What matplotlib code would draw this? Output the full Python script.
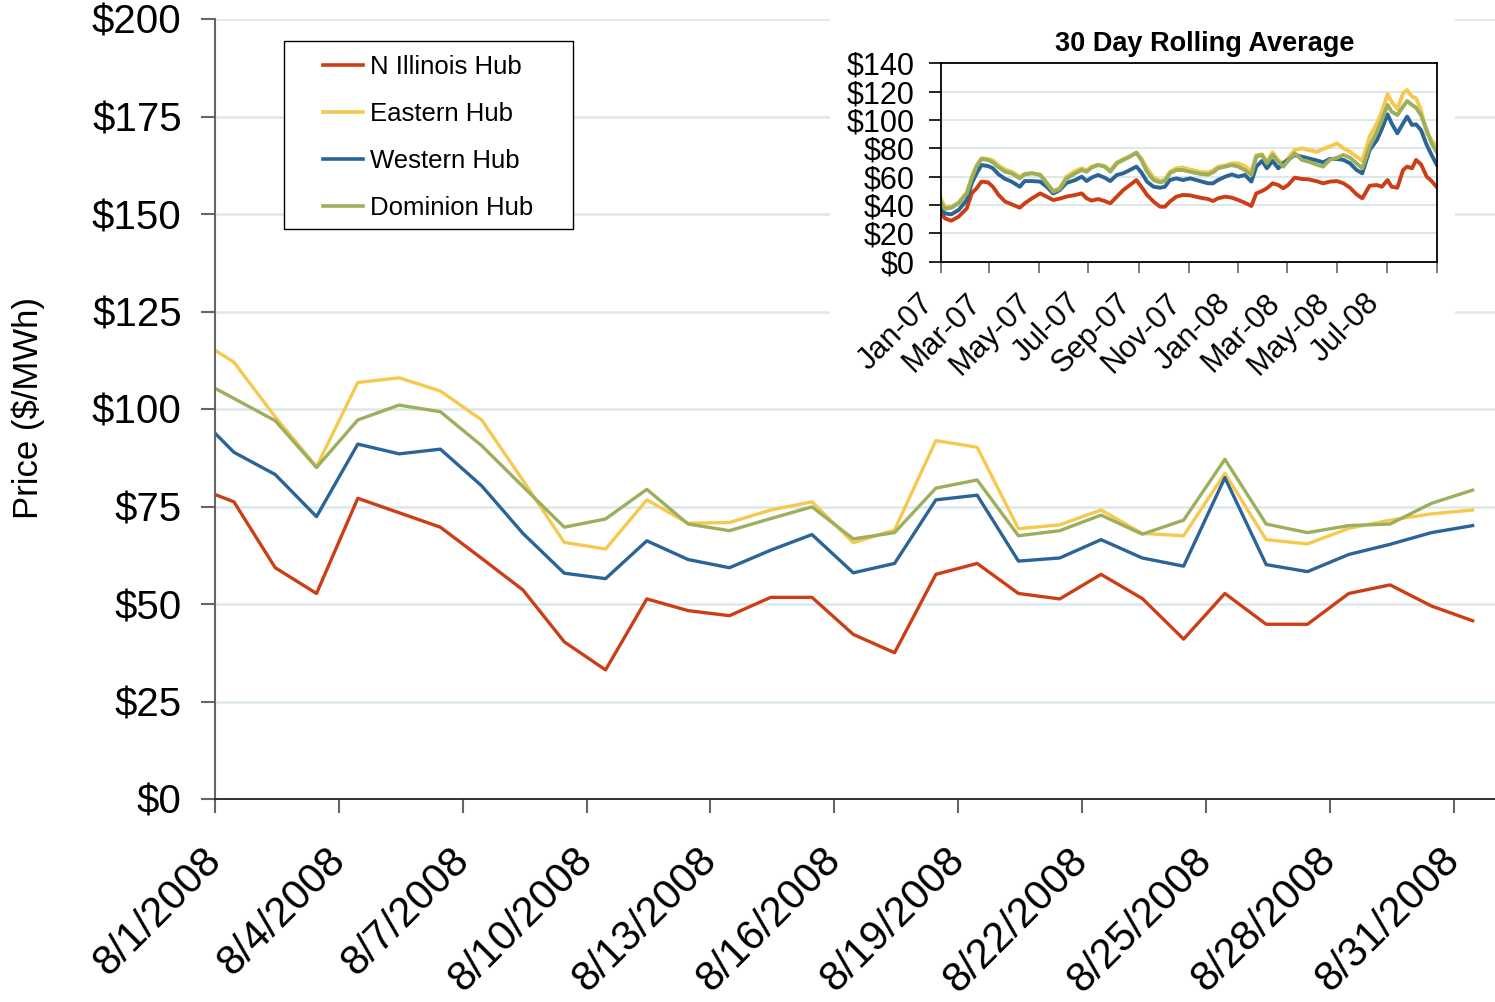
import matplotlib
matplotlib.use('Agg')
import matplotlib.pyplot as plt
import pandas as pd
from matplotlib.patches import Rectangle
from matplotlib.transforms import ScaledTranslation

plt.rcParams['font.family'] = ['Liberation Sans', 'DejaVu Sans']

# Daily prices, August 2008 ($/MWh). First value is 7/31, mostly cut off by the axis
days = pd.date_range('2008-07-31 11:00', periods=32, freq='D')
n_illinois = [80.3, 76.2, 59.3, 52.7, 77.1, 73.4, 69.7, 61.7, 53.6, 40.3, 33.1, 51.3,
              48.3, 47.0, 51.7, 51.7, 42.2, 37.5, 57.6, 60.4, 52.7, 51.3, 57.6, 51.4,
              41.0, 52.7, 44.8, 44.8, 52.7, 54.9, 49.5, 45.7]
eastern = [118.7, 112.0, 98.0, 85.2, 106.8, 108.0, 104.6, 97.2, 81.7, 65.8, 64.1, 76.7,
           70.7, 70.9, 74.1, 76.2, 65.7, 69.0, 91.9, 90.2, 69.3, 70.3, 74.1, 68.1,
           67.5, 83.5, 66.5, 65.4, 69.4, 71.5, 73.1, 74.1]
western = [99.6, 88.9, 83.2, 72.4, 91.0, 88.5, 89.7, 80.3, 68.1, 57.9, 56.5, 66.2,
           61.4, 59.3, 63.8, 67.8, 58.0, 60.4, 76.7, 77.9, 61.0, 61.8, 66.5, 61.8,
           59.7, 82.4, 60.1, 58.3, 62.7, 65.3, 68.3, 70.1]
dominion = [108.4, 102.7, 97.0, 85.0, 97.2, 101.0, 99.3, 90.6, 80.1, 69.7, 71.8, 79.4,
            70.5, 68.8, 71.9, 74.9, 66.7, 68.3, 79.7, 81.8, 67.5, 68.8, 72.8, 67.9,
            71.5, 87.1, 70.5, 68.3, 70.1, 70.5, 75.8, 79.2]

# 30 day rolling average, sampled off the inset (days since 1/1/2007)
avg_days = [0, 5, 13, 22, 32, 38, 44, 50, 58, 64, 71, 79, 87, 97, 103, 112, 122, 130,
            138, 146, 154, 165, 173, 179, 185, 193, 201, 208, 216, 224, 232, 240, 246,
            253, 261, 269, 275, 281, 289, 297, 306, 318, 328, 334, 340, 349, 357, 365,
            373, 381, 387, 394, 400, 407, 414, 420, 426, 434, 443, 451, 461, 469, 477,
            486, 494, 502, 510, 517, 526, 535, 541, 548, 553, 560, 567, 572, 578, 583,
            589, 596, 602, 608]
avg_n_illinois = [35.3, 30.6, 28.9, 31.8, 37.6, 48.2, 51.8, 56.5, 56.0, 52.9, 47.1, 42.4,
                  40.5, 38.1, 41.2, 44.7, 48.2, 45.9, 43.5, 44.5, 45.9, 47.1, 48.2, 44.7,
                  43.1, 44.2, 42.8, 41.2, 45.9, 50.6, 54.1, 57.6, 52.9, 47.1, 42.4, 38.8,
                  38.8, 42.4, 45.9, 47.1, 46.8, 45.2, 44.2, 42.8, 44.7, 45.9, 45.2, 43.5,
                  41.6, 39.3, 48.2, 49.9, 51.8, 55.3, 54.1, 51.8, 54.1, 59.3, 58.4, 58.1,
                  56.8, 55.3, 56.5, 56.9, 55.3, 52.2, 47.5, 44.7, 53.6, 54.1, 52.9, 57.6,
                  52.9, 52.2, 64.7, 67.1, 65.9, 71.8, 68.7, 60.0, 56.9, 52.9]
avg_eastern = [44.7, 38.8, 38.8, 42.0, 49.0, 59.5, 68.0, 73.0, 72.5, 71.5, 68.0, 65.0,
               63.5, 60.0, 62.0, 62.5, 61.5, 56.0, 50.0, 52.0, 60.0, 64.0, 66.0, 64.5,
               67.0, 68.5, 67.5, 64.5, 70.0, 72.5, 74.5, 77.0, 73.0, 66.0, 59.5, 57.0,
               58.0, 63.5, 66.0, 66.5, 65.0, 63.5, 63.0, 64.5, 67.0, 68.0, 69.5, 69.4,
               67.5, 63.5, 75.3, 75.8, 70.6, 77.2, 71.5, 69.4, 73.0, 78.8, 80.0, 78.8,
               77.6, 79.5, 81.2, 83.5, 80.0, 77.6, 74.1, 71.1, 88.2, 97.6, 105.9, 118.1,
               112.9, 107.8, 118.8, 121.2, 116.5, 115.3, 107.1, 90.6, 85.9, 81.2]
avg_western = [38.8, 34.1, 33.4, 36.5, 43.5, 55.3, 62.4, 68.2, 67.5, 65.9, 61.6, 58.4,
               56.5, 52.9, 56.9, 56.9, 56.5, 52.9, 48.2, 50.5, 55.5, 57.6, 60.0, 56.9,
               59.3, 61.2, 59.3, 56.9, 61.2, 62.4, 64.7, 67.1, 63.1, 56.5, 52.9, 52.2,
               52.9, 57.6, 58.8, 57.6, 58.8, 56.9, 55.3, 55.3, 57.6, 60.0, 61.6, 60.0,
               61.2, 56.5, 67.1, 71.1, 65.9, 71.1, 65.9, 69.4, 71.8, 75.3, 74.1, 72.9,
               71.5, 70.1, 72.5, 72.5, 71.8, 69.4, 64.7, 62.4, 78.8, 85.9, 93.6, 104.0,
               97.6, 90.6, 97.6, 102.4, 96.5, 96.9, 92.9, 82.4, 75.3, 68.7]
avg_dominion = [42.4, 37.2, 38.1, 41.2, 48.2, 58.8, 67.1, 72.5, 71.8, 70.1, 66.6, 63.5,
                62.4, 58.8, 61.6, 62.4, 61.2, 55.3, 49.4, 51.3, 58.5, 62.4, 64.7, 63.5,
                66.4, 68.2, 67.1, 63.5, 69.4, 71.8, 74.1, 76.9, 71.8, 63.5, 57.6, 56.0,
                56.9, 62.4, 64.7, 64.7, 63.5, 62.0, 61.5, 63.0, 65.9, 67.1, 68.2, 67.1,
                64.7, 61.2, 74.1, 75.3, 69.4, 75.3, 70.6, 67.1, 71.1, 76.5, 71.8, 70.6,
                68.5, 67.1, 71.8, 73.4, 75.3, 73.4, 69.4, 65.9, 81.2, 91.8, 100.0, 110.6,
                105.9, 103.5, 109.4, 113.4, 110.6, 108.7, 103.5, 92.9, 83.5, 77.6]

series_names = ['N Illinois Hub', 'Eastern Hub', 'Western Hub', 'Dominion Hub']
colors = ['#CC3F16', '#F6C94E', '#2B6496', '#9BAF5C']

W, H = 1495, 1002
fig = plt.figure(figsize=(W / 100, H / 100), dpi=100)

# main chart
ax = fig.add_axes([215 / W, 1 - 799 / H, 1 - 215 / W, (799 - 19) / H])
for vals, name, c in zip([n_illinois, eastern, western, dominion], series_names, colors):
    ax.plot(days, vals, color=c, lw=2.4, label=name)

ax.set_ylim(0, 200)
ax.set_xlim(pd.Timestamp('2008-08-01'), pd.Timestamp('2008-09-01'))
yt = list(range(0, 201, 25))
ax.set_yticks(yt)
ax.set_yticklabels(['$%d' % v for v in yt], fontsize=29)
xt = pd.date_range('2008-08-01', '2008-08-31', freq='3D')
ax.set_xticks(xt)
ax.set_xticklabels(['%d/%d/%d' % (d.month, d.day, d.year) for d in xt], fontsize=30,
                   rotation=45, ha='right', va='center', rotation_mode='anchor')
ax.tick_params(axis='y', length=10, width=1.5, color='#666666', pad=14)
ax.tick_params(axis='x', length=10, width=1.5, color='#666666', pad=30)
ax.grid(axis='y', color='#DCE8EA', lw=1.8)
ax.set_axisbelow(True)
for s in ['top', 'right']:
    ax.spines[s].set_visible(False)
ax.spines['left'].set_color('#666666')
ax.spines['left'].set_linewidth(1.5)
ax.spines['bottom'].set_color('#222222')
ax.spines['bottom'].set_linewidth(1.3)

fig.text(28 / W, 1 - 408 / H, 'Price ($/MWh)', rotation=90, fontsize=25,
         ha='center', va='center')

# legend box drawn separately so its padding can match the original
ax.add_patch(Rectangle((284 / W, 1 - 229 / H), (573 - 284) / W, (229 - 41) / H,
                       transform=fig.transFigure, facecolor='white', edgecolor='black',
                       lw=1.0, zorder=4, clip_on=False))
leg = ax.legend(loc='upper left', bbox_to_anchor=(323 / W, 1 - 55 / H),
                bbox_transform=fig.transFigure, borderaxespad=0, borderpad=0,
                frameon=False, fontsize=18.5, handlelength=1.55, handletextpad=0.28,
                labelspacing=0.89)
leg.set_zorder(5)
for line in leg.get_lines():
    line.set_linewidth(2.6)

# white backing for the inset chart
fig.patches.append(Rectangle((830 / W, 1 - 390 / H), (1455 - 830) / W, (390 - 12) / H,
                             transform=fig.transFigure, facecolor='white',
                             edgecolor='none', zorder=1))

# inset: 30 day rolling average
ins = fig.add_axes([940.7 / W, 1 - 261.7 / H, 496.6 / W, 198.4 / H], zorder=3)
avg_dates = pd.Timestamp('2007-01-01') + pd.to_timedelta(avg_days, unit='D')
for vals, c in zip([avg_n_illinois, avg_eastern, avg_western, avg_dominion], colors):
    ins.plot(avg_dates, vals, color=c, lw=2.8)
ins.set_ylim(0, 140)
ins.set_xlim(pd.Timestamp('2007-01-01'), pd.Timestamp('2008-09-01'))
it = list(range(0, 141, 20))
ins.set_yticks(it)
ins.set_yticklabels(['$%d' % v for v in it], fontsize=22)
mt = pd.date_range('2007-01-01', '2008-09-01', freq='2MS')
ins.set_xticks(mt)
ins.set_xticklabels([])
# month labels, written as texts so they can sit where Excel put them
lab_shift = ScaledTranslation(-12 / 100, -37 / 100, fig.dpi_scale_trans)
for d in mt[:-1]:
    ins.text(d, 0, d.strftime('%b-%y'), transform=ins.get_xaxis_transform() + lab_shift,
             fontsize=22, rotation=45, ha='right', va='center', rotation_mode='anchor')
ins.tick_params(axis='y', length=9, width=1.2, pad=9.7)
ins.tick_params(axis='x', length=8, width=1.2, color='#666666')
ins.grid(axis='y', color='#D6E4E6', lw=1.2)
ins.set_axisbelow(True)
for s in ins.spines.values():
    s.set_color('black')
    s.set_linewidth(1.3)
fig.text(1205 / W, 1 - 44 / H, '30 Day Rolling Average', fontsize=19.5, fontweight='bold',
         ha='center', va='center')

fig.savefig('out.png', dpi=100)
